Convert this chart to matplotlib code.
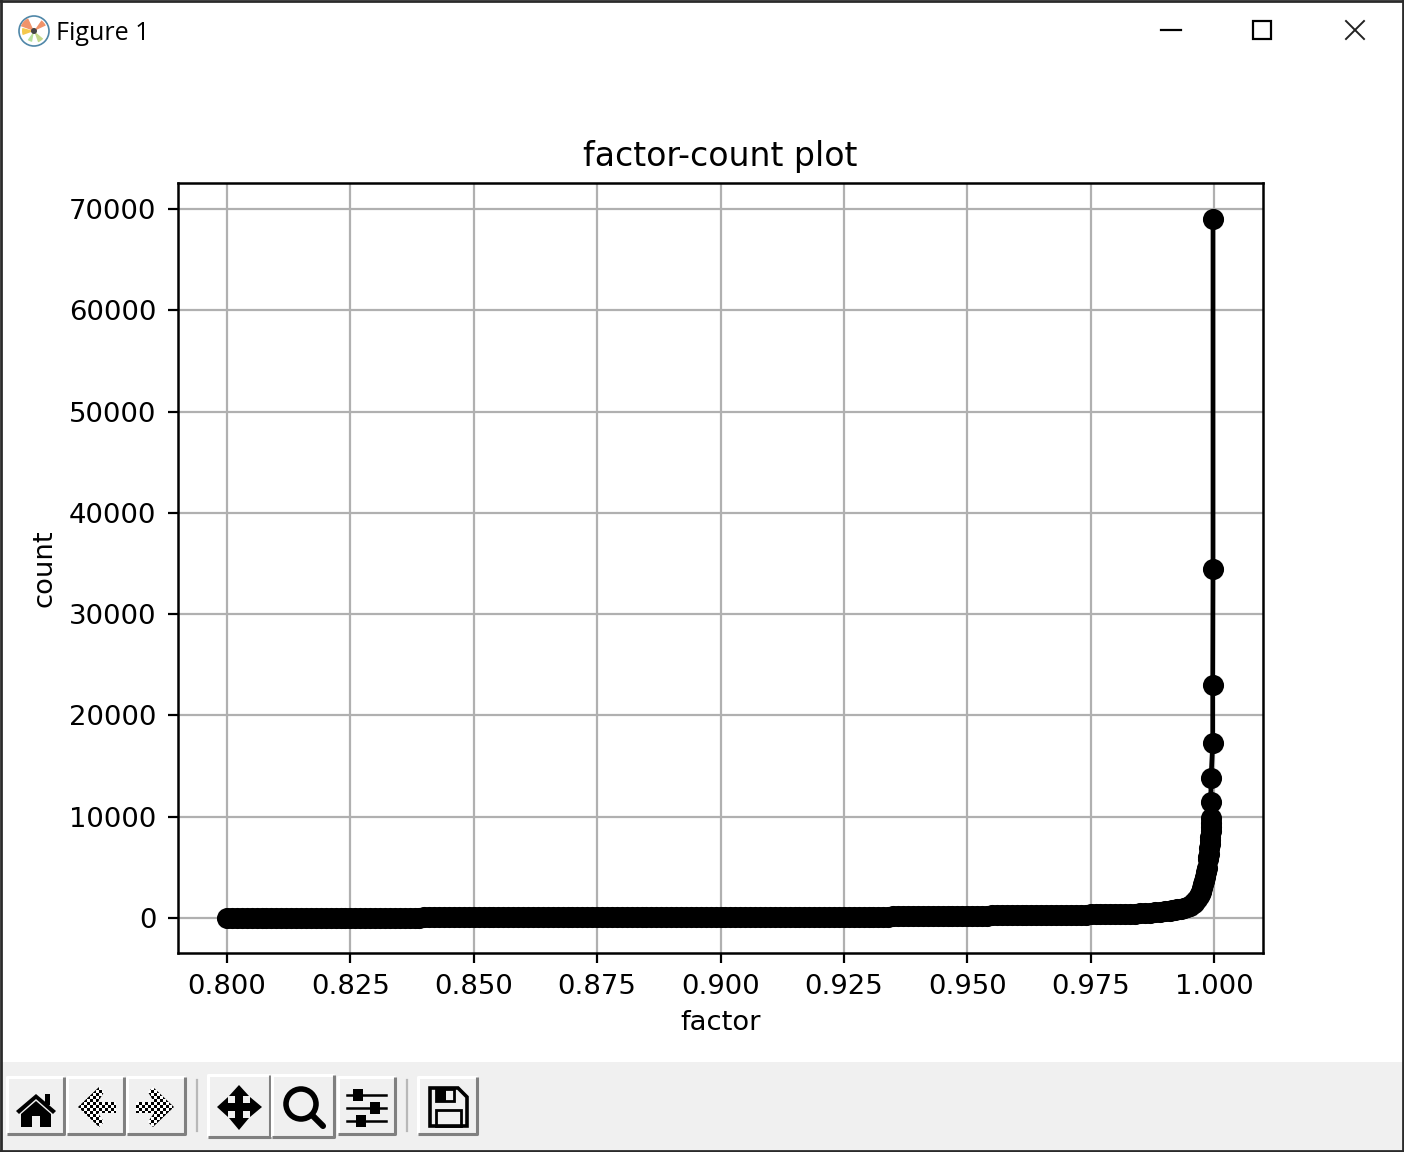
import numpy as np
import matplotlib
matplotlib.use("Agg")
import matplotlib.pyplot as plt
from matplotlib.patches import Polygon, Rectangle, Circle, Wedge

W, H = 1404, 1152

# values
factor_flat = [
    0.800, 0.801, 0.802, 0.803, 0.804, 0.805, 0.806, 0.807, 0.808, 0.809,
    0.810, 0.811, 0.812, 0.813, 0.814, 0.815, 0.816, 0.817, 0.818, 0.819,
    0.820, 0.821, 0.822, 0.823, 0.824, 0.825, 0.826, 0.827, 0.828, 0.829,
    0.830, 0.831, 0.832, 0.833, 0.834, 0.835, 0.836, 0.837, 0.838, 0.839,
    0.840, 0.841, 0.842, 0.843, 0.844, 0.845, 0.846, 0.847, 0.848, 0.849,
    0.850, 0.851, 0.852, 0.853, 0.854, 0.855, 0.856, 0.857, 0.858, 0.859,
    0.860, 0.861, 0.862, 0.863, 0.864, 0.865, 0.866, 0.867, 0.868, 0.869,
    0.870, 0.871, 0.872, 0.873, 0.874, 0.875, 0.876, 0.877, 0.878, 0.879,
    0.880, 0.881, 0.882, 0.883, 0.884, 0.885, 0.886, 0.887, 0.888, 0.889,
    0.890, 0.891, 0.892, 0.893, 0.894, 0.895, 0.896, 0.897, 0.898, 0.899,
    0.900, 0.901, 0.902, 0.903, 0.904, 0.905, 0.906, 0.907, 0.908, 0.909,
    0.910, 0.911, 0.912, 0.913, 0.914, 0.915, 0.916, 0.917, 0.918, 0.919,
    0.920, 0.921, 0.922, 0.923, 0.924, 0.925, 0.926, 0.927, 0.928, 0.929,
    0.930, 0.931, 0.932, 0.933, 0.934, 0.935, 0.936, 0.937, 0.938, 0.939,
    0.940, 0.941, 0.942, 0.943, 0.944, 0.945, 0.946, 0.947, 0.948, 0.949,
    0.950, 0.951, 0.952, 0.953, 0.954, 0.955, 0.956, 0.957, 0.958, 0.959,
    0.960, 0.961, 0.962, 0.963, 0.964, 0.965, 0.966, 0.967, 0.968, 0.969,
    0.970, 0.971, 0.972, 0.973, 0.974, 0.975, 0.976, 0.977, 0.978, 0.979,
]
count_flat = [
    40, 40, 40, 41, 41, 41, 41, 42, 42, 42,
    42, 42, 43, 43, 43, 43, 44, 44, 44, 44,
    44, 45, 45, 45, 45, 46, 46, 46, 46, 47,
    47, 47, 47, 48, 48, 48, 49, 49, 49, 49,
    50, 50, 50, 51, 51, 51, 52, 52, 52, 53,
    53, 53, 54, 54, 54, 55, 55, 56, 56, 56,
    57, 57, 58, 58, 58, 59, 59, 60, 60, 61,
    62, 62, 63, 63, 64, 64, 65, 65, 66, 67,
    67, 68, 69, 69, 70, 71, 71, 72, 73, 74,
    75, 75, 76, 77, 78, 79, 80, 81, 82, 83,
    84, 85, 86, 87, 88, 89, 90, 92, 93, 94,
    96, 97, 98, 100, 102, 103, 105, 107, 108, 110,
    112, 114, 116, 118, 120, 123, 125, 127, 130, 133,
    136, 139, 142, 145, 148, 152, 155, 159, 163, 167,
    171, 176, 180, 185, 190, 196, 202, 208, 214, 221,
    228, 232, 236, 240, 245, 250, 255, 260, 265, 270,
    275, 280, 285, 290, 295, 300, 305, 310, 315, 320,
    325, 330, 335, 340, 345, 350, 355, 360, 365, 370,
]
factor_knee = [
    0.980, 0.981, 0.982, 0.983, 0.984, 0.985, 0.986, 0.987, 0.988, 0.989,
    0.990, 0.991, 0.9915, 0.992, 0.9925, 0.993, 0.9934, 0.994, 0.9945, 0.9951,
    0.99554, 0.9959, 0.9962, 0.9966, 0.99696, 0.9972, 0.9974, 0.9976, 0.99783, 0.998,
    0.9982, 0.9984, 0.9985, 0.9987, 0.9988, 0.9989, 0.999, 0.9991, 0.99925, 0.99928,
    0.9993, 0.99932, 0.99932, 0.99933, 0.99934, 0.9994, 0.99974, 0.99974, 0.9998, 0.9998,
]
count_knee = [
    380, 390, 400, 415, 430, 460, 490, 520, 560, 610,
    660, 740, 790, 830, 870, 880, 890, 1000, 1080, 1230,
    1380, 1500, 1650, 1900, 2170, 2400, 2600, 2960, 3380, 3700,
    4080, 4500, 4900, 5800, 6000, 6270, 6900, 7260, 7667, 8000,
    8625, 9000, 9400, 9857, 11500, 13800, 17250, 23000, 34500, 69000,
]

xtick_vals = [0.800, 0.825, 0.850, 0.875, 0.900, 0.925, 0.950, 0.975, 1.000]
ytick_vals = [0, 10000, 20000, 30000, 40000, 50000, 60000, 70000]

fig = plt.figure(figsize=(W / 200, H / 200), dpi=200, facecolor="white")

# window chrome, in pixel coordinates
bg = fig.add_axes([0, 0, 1, 1], zorder=0)
bg.set_xlim(0, W)
bg.set_ylim(H, 0)
bg.axis("off")


def button(x0, y0, x1, y1):
    bg.add_patch(Rectangle((x0, y0), x1 - x0, y1 - y0, fc="#f0f0f0", ec="none"))
    bg.plot([x0, x0, x1], [y1, y0, y0], color="white", lw=1.1, solid_capstyle="butt")
    bg.plot([x0, x1, x1], [y1, y1, y0], color="#808080", lw=1.1, solid_capstyle="butt")


def checker_poly(pts):
    # greyed out arrows are a dither pattern
    x0 = min(p[0] for p in pts)
    y0 = min(p[1] for p in pts)
    nx = (max(p[0] for p in pts) - x0) // 3 + 1
    ny = (max(p[1] for p in pts) - y0) // 3 + 1
    im = np.indices((ny, nx)).sum(axis=0) % 2
    img = bg.imshow(im, cmap="gray", extent=(x0, x0 + nx * 3, y0 + ny * 3, y0),
                    interpolation="nearest", aspect="auto", zorder=3)
    clip = Polygon(pts, transform=bg.transData, fc="none", ec="none")
    bg.add_patch(clip)
    img.set_clip_path(clip)


bg.add_patch(Rectangle((0, 1062), W, 90, fc="#f0f0f0", ec="none"))
bg.plot([0, W], [1, 1], color="#2b2b2b", lw=1.0)
bg.plot([0.5, 0.5], [0, H], color="#2b2b2b", lw=1.0)
bg.plot([W - 1, W - 1], [0, H], color="#2b2b2b", lw=1.0)
bg.plot([0, W], [H - 1, H - 1], color="#2b2b2b", lw=1.0)

# titlebar
bg.add_patch(Circle((34, 31), 15, fc="white", ec="#4f87a8", lw=0.6))
bg.add_patch(Wedge((34, 31), 14, 200, 245, fc="#f0936a", ec="none"))
bg.add_patch(Wedge((34, 31), 12, 160, 195, fc="#f5c84c", ec="none"))
bg.add_patch(Wedge((34, 31), 12, 40, 70, fc="#c4d88a", ec="none"))
bg.add_patch(Wedge((34, 31), 13, 305, 335, fc="#f0936a", ec="none"))
bg.add_patch(Wedge((34, 31), 11, 100, 125, fc="#b5e09a", ec="none"))
bg.add_patch(Circle((34, 31), 3, fc="#444444", ec="none"))
bg.text(56, 33, "Figure 1", fontsize=9, family="Open Sans", va="center", ha="left", color="black")
bg.plot([1161, 1181], [30, 30], color="black", lw=0.8)
bg.add_patch(Rectangle((1253, 21), 18, 18, fc="none", ec="black", lw=0.8))
bg.plot([1346, 1364], [21, 39], color="#222222", lw=0.7)
bg.plot([1346, 1364], [39, 21], color="#222222", lw=0.7)

# toolbar buttons
button(7, 1077, 64, 1134)
button(67, 1077, 124, 1134)
button(127, 1077, 185, 1134)
bg.plot([197, 197], [1080, 1131], color="#b8b8b8", lw=0.8)
button(208, 1075, 270, 1137)
button(272, 1075, 334, 1137)
button(338, 1077, 395, 1134)
bg.plot([407, 407], [1080, 1131], color="#b8b8b8", lw=0.8)
button(418, 1077, 477, 1134)

# home
bg.add_patch(Polygon([(16, 1111), (36, 1094), (56, 1111), (53, 1114), (36, 1099), (19, 1114)], fc="black"))
bg.add_patch(Polygon([(21, 1114), (36, 1101), (51, 1114), (51, 1127), (40, 1127), (40, 1116),
                      (32, 1116), (32, 1127), (21, 1127)], fc="black"))
bg.add_patch(Rectangle((45, 1094), 5, 11, fc="black"))

# back / forward
checker_poly([(78, 1107), (99, 1087), (104, 1092), (98, 1102), (116, 1102), (116, 1113),
              (98, 1113), (104, 1122), (99, 1127)])
checker_poly([(174, 1107), (153, 1087), (148, 1092), (154, 1102), (136, 1102), (136, 1113),
              (154, 1113), (148, 1122), (153, 1127)])

# pan
bg.add_patch(Polygon([(239, 1085), (249, 1096), (243, 1096), (243, 1103), (250, 1103), (250, 1097),
                      (262, 1107), (250, 1117), (250, 1111), (243, 1111), (243, 1118), (249, 1118),
                      (239, 1130), (229, 1118), (235, 1118), (235, 1111), (228, 1111), (228, 1117),
                      (217, 1107), (228, 1097), (228, 1103), (235, 1103), (235, 1096), (229, 1096)],
                     fc="black"))

# zoom
bg.add_patch(Circle((301, 1104), 15, fc="none", ec="black", lw=2.0))
bg.plot([312, 323], [1115, 1126], color="black", lw=2.2, solid_capstyle="round")

# sliders
for y, x in zip([1095, 1108, 1121], [358, 375, 361]):
    bg.plot([347, 386], [y, y], color="black", lw=0.9)
    bg.add_patch(Rectangle((x - 5, y - 6), 10, 12, fc="black"))

# save
bg.add_patch(Polygon([(430, 1088), (458, 1088), (467, 1097), (467, 1126), (430, 1126)],
                     fc="none", ec="black", lw=1.3))
bg.add_patch(Rectangle((436, 1089), 18, 12, fc="none", ec="black", lw=1.0))
bg.add_patch(Rectangle((437, 1089), 9, 12, fc="black"))
bg.add_patch(Rectangle((436, 1110), 25, 16, fc="none", ec="black", lw=1.0))

# the plot itself
left, right, top, bottom = 178, 1263, 183, 953
ax = fig.add_axes([left / W, 1 - bottom / H, (right - left) / W, (bottom - top) / H], zorder=1)
ax.plot(factor_flat + factor_knee, count_flat + count_knee, "ko-", ms=6.6, lw=1.7)
ax.set_xlim(0.79007, 1.00993)
ax.set_ylim(-3455, 72564)
ax.set_xticks(xtick_vals)
ax.set_xticklabels(["%.3f" % v for v in xtick_vals])
ax.set_yticks(ytick_vals)
ax.tick_params(axis="both", labelsize=9.9)
ax.tick_params(axis="y", pad=4.3)
ax.tick_params(axis="x", pad=4.2)
ax.set_title("factor-count plot", fontsize=11.95)
ax.set_xlabel("factor", fontsize=9.9, labelpad=3.5)
ax.set_ylabel("count", fontsize=9.9)
ax.grid(True)
for s in ax.spines.values():
    s.set_linewidth(0.9)

fig.savefig("out.png", dpi=200)
